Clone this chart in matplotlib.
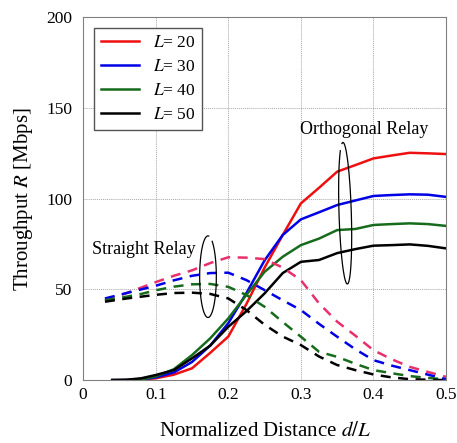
import matplotlib
matplotlib.use("Agg")
import matplotlib.pyplot as plt
import numpy as np

plt.rcParams['font.family'] = ['Liberation Serif', 'DejaVu Serif']
plt.rcParams['mathtext.fontset'] = 'stix'

# distance grid (d/L)
x_orth = [0.04, 0.06, 0.08, 0.10, 0.125, 0.15, 0.175, 0.20, 0.225, 0.25,
          0.275, 0.30, 0.325, 0.35, 0.375, 0.40, 0.425, 0.45, 0.475, 0.50]
x_str = [0.03, 0.06, 0.08, 0.10, 0.125, 0.15, 0.175, 0.20, 0.225, 0.25,
         0.275, 0.30, 0.325, 0.35, 0.375, 0.40, 0.425, 0.45, 0.475, 0.50]

L_values = [20, 30, 40, 50]

# orthogonal relay (solid)
orth_20 = [0, 0, 0.2, 1.0, 3, 6.5, 15, 24, 42, 62, 80, 97.4, 106, 114.9, 118.5, 122.2, 123.8, 125.3, 125, 124.6]
orth_30 = [0, 0, 0.3, 1.5, 4.2, 10, 19, 31.4, 48, 66, 80, 88.6, 92.5, 96.5, 99, 101.5, 102, 102.4, 102.2, 101]
orth_40 = [0, 0, 0.4, 2, 6, 13.8, 23, 34, 47, 59.7, 68, 74.4, 78, 82.7, 83.3, 85.5, 86, 86.4, 86, 85]
orth_50 = [0, 0.2, 1, 2.8, 5.5, 12, 19, 29.4, 38, 47.8, 59, 65.2, 66.2, 70, 72.2, 74.1, 74.4, 74.8, 74, 72.6]

# straight relay (dashed)
str_20 = [44.1, 48, 51, 54, 57.5, 60.5, 64.5, 67.7, 67.5, 66.7, 62, 55.1, 42.3, 32.2, 24.5, 16.5, 11.5, 7.3, 4.5, 1.8]
str_30 = [45, 48, 50, 52, 55, 57.5, 59, 59.2, 55.1, 49.6, 44, 38.6, 31, 23.9, 17, 11, 8, 5.5, 3, 0.5]
str_40 = [44, 46, 47.5, 49.5, 51.5, 52.8, 53, 51.4, 46.9, 40.4, 32, 23.9, 15.6, 12.8, 9, 5.5, 3.8, 2.2, 1.2, 0.4]
str_50 = [43.2, 45, 46, 47, 48, 48.2, 47.5, 45, 38.6, 30.5, 24, 19.3, 13, 8.3, 5.5, 3.1, 1.5, 0.5, 0.2, 0]

solid_colors = ['#ee1010', '#0000e6', '#176b1c', 'black']
dash_colors = ['#e8306a', '#0000e6', '#176b1c', 'black']

fig = plt.figure(figsize=(4.57, 4.43), dpi=100)
ax = fig.add_axes([0.182, 0.142, 0.794, 0.819])

for L, y, c in zip(L_values, [orth_20, orth_30, orth_40, orth_50], solid_colors):
    ax.plot(x_orth, y, color=c, lw=1.8, label=f'$L$= {L}')
for y, c in zip([str_20, str_30, str_40, str_50], dash_colors):
    ax.plot(x_str, y, color=c, lw=1.8, ls=(0, (4, 3)))


def open_ellipse(cx, cy, rx, ry, gap_from, gap_to, shear=0.0):
    t = np.radians(np.linspace(gap_to, gap_from + 360, 200))
    ex = cx + rx * np.cos(t) + shear * np.sin(t)
    ey = cy + ry * np.sin(t)
    ax.plot(ex, ey, color='black', lw=0.9)


# ellipses marking the two groups
open_ellipse(0.361, 92, 0.0085, 39, 100, 118, shear=-0.003)
open_ellipse(0.172, 57, 0.0115, 22.5, 60, 85)
ax.text(0.387, 138, 'Orthogonal Relay', fontsize=13, ha='center', va='center')
ax.text(0.084, 72, 'Straight Relay', fontsize=13, ha='center', va='center')

ax.set_xlim(0, 0.5)
ax.set_ylim(0, 200)
ax.set_xticks([0, 0.1, 0.2, 0.3, 0.4, 0.5])
ax.set_xticklabels(['0', '0.1', '0.2', '0.3', '0.4', '0.5'])
ax.set_yticks([0, 50, 100, 150, 200])
ax.tick_params(labelsize=12.5, length=0)
ax.tick_params(axis='x', pad=5)
ax.tick_params(axis='y', pad=8)
ax.grid(True, color='#a8a8a8', ls=(0, (1, 1)), lw=0.7)
for s in ax.spines.values():
    s.set_color('#808080')
    s.set_linewidth(0.8)

ax.set_xlabel('Normalized Distance $d/L$', fontsize=15, labelpad=14)
ax.set_ylabel('Throughput $R$ [Mbps]', fontsize=15, labelpad=8)

leg = ax.legend(loc='upper left', fontsize=12.5, handlelength=2.2, labelspacing=0.45,
                fancybox=False, edgecolor='#555555', framealpha=1,
                borderaxespad=0.6, bbox_to_anchor=(0.0, 1.0))
leg.get_frame().set_linewidth(1.0)

fig.savefig('out.png', dpi=100)
